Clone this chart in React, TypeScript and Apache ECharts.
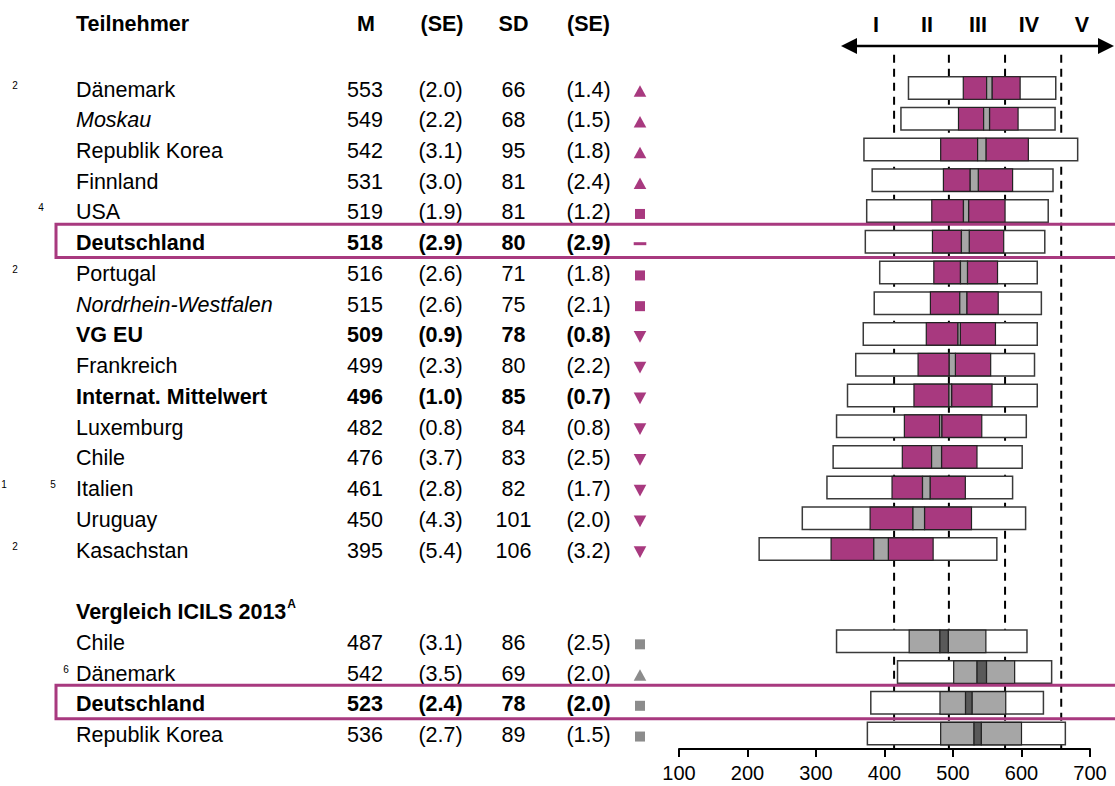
import React, { useEffect, useRef } from 'react';
import * as echarts from 'echarts';

// ---------------- DATA: ICILS 2018 ----------------
const countries = ['Dänemark', 'Moskau', 'Republik Korea', 'Finnland', 'USA', 'Deutschland', 'Portugal', 'Nordrhein-Westfalen', 'VG EU', 'Frankreich', 'Internat. Mittelwert', 'Luxemburg', 'Chile', 'Italien', 'Uruguay', 'Kasachstan'];
const meanM = [553, 549, 542, 531, 519, 518, 516, 515, 509, 499, 496, 482, 476, 461, 450, 395];
const seM = [2.0, 2.2, 3.1, 3.0, 1.9, 2.9, 2.6, 2.6, 0.9, 2.3, 1.0, 0.8, 3.7, 2.8, 4.3, 5.4];
const sdValues = [66, 68, 95, 81, 81, 80, 71, 75, 78, 80, 85, 84, 83, 82, 101, 106];
const seSD = [1.4, 1.5, 1.8, 2.4, 1.2, 2.9, 1.8, 2.1, 0.8, 2.2, 0.7, 0.8, 2.5, 1.7, 2.0, 3.2];
const p5 = [435, 424, 370, 382, 374, 372, 393, 385, 369, 358, 346, 330, 325, 316, 280, 217];
const p25 = [515, 508, 482, 486, 469, 470, 472, 467, 461, 449, 443, 429, 426, 411, 379, 322];
const p75 = [598, 595, 610, 587, 576, 574, 565, 566, 562, 555, 557, 542, 535, 518, 527, 471];
const p95 = [650, 649, 682, 646, 639, 634, 623, 629, 623, 619, 623, 607, 601, 587, 606, 564];
const diffToGermany = ['up', 'up', 'up', 'up', 'ns', 'ref', 'ns', 'ns', 'down', 'down', 'down', 'down', 'down', 'down', 'down', 'down'];
const nameStyle = ['', 'i', '', '', '', 'b', '', 'i', 'b', '', 'b', '', '', '', '', ''];
const footnotes = ['2', '', '', '', '4', '', '2', '', '', '', '', '', '', '1 5', '', '2'];

// ---------------- DATA: Vergleich ICILS 2013 ----------------
const icilsTitle = 'Vergleich ICILS 2013';
const icilsTitleNote = 'A';
const countries13 = ['Chile', 'Dänemark', 'Deutschland', 'Republik Korea'];
const meanM13 = [487, 542, 523, 536];
const seM13 = [3.1, 3.5, 2.4, 2.7];
const sd13 = [86, 69, 78, 89];
const seSD13 = [2.5, 2.0, 2.0, 1.5];
const p5_13 = [330, 419, 380, 375];
const p25_13 = [436, 501, 481, 482];
const p75_13 = [548, 590, 577, 600];
const p95_13 = [608, 644, 632, 664];
const diff13 = ['ns', 'up', 'ns', 'ns'];
const nameStyle13 = ['', '', 'b', ''];
const footnotes13 = ['', '6', '', ''];

// proficiency levels
const levelNames = ['I', 'II', 'III', 'IV', 'V'];
const levelCutoffs = [414, 494, 576, 658];

// headers
const headers = ['Teilnehmer', 'M', '(SE)', 'SD', '(SE)'];

// ---------------- STYLE / LAYOUT ----------------
const FONT = '"Liberation Sans", Arial, Helvetica, sans-serif';
const FS = 21.5;
const MAGENTA = '#a8397f';
const CI_GREY = '#a6a6a6';
const DARK_CI = '#595959';
const MARK_GREY = '#8c8c8c';
const COL = { name: 76, m: 365, se1: 440.5, sd: 513.5, se2: 588.5, sig: 640 };
const HEAD_X = [76, 366, 442, 513.5, 588.5];
const NOTE_X: Record<string, number> = { '1': 4, '2': 15, '4': 41, '5': 53, '6': 66 };
const LEVEL_X = [876, 927, 978, 1029, 1082];
const ROW_STEP = 30.74;
const ROW0_Y = 88;
const Y_MIN = -2.5;
const Y_MAX = 21.5;
const GRID_TOP = ROW0_Y + Y_MIN * ROW_STEP;
const GRID_BOTTOM = 786 - (ROW0_Y + Y_MAX * ROW_STEP);

type Row = {
  row: number; name: string; style: string; heading?: boolean;
  m?: number; se?: number; sd?: number; sesd?: number; sig?: string;
  notes: string; grey: boolean; highlight: boolean;
};

const tableRows: Row[] = [
  ...countries.map((name, i) => ({
    row: i, name, style: nameStyle[i], m: meanM[i], se: seM[i], sd: sdValues[i], sesd: seSD[i],
    sig: diffToGermany[i], notes: footnotes[i], grey: false, highlight: name === 'Deutschland',
  })),
  { row: countries.length + 1, name: icilsTitle, style: 'b', heading: true, notes: '', grey: true, highlight: false },
  ...countries13.map((name, j) => ({
    row: countries.length + 2 + j, name, style: nameStyle13[j], m: meanM13[j], se: seM13[j], sd: sd13[j], sesd: seSD13[j],
    sig: diff13[j], notes: footnotes13[j], grey: true, highlight: name === 'Deutschland',
  })),
];

const ci = (m: number, se: number) => [m - 1.96 * se, m + 1.96 * se];

const boxData18 = countries.map((_, i) => {
  const [lo, hi] = ci(meanM[i], seM[i]);
  return [p5[i], p25[i], lo, hi, p75[i], p95[i], i];
});
const boxData13 = countries13.map((_, j) => {
  const [lo, hi] = ci(meanM13[j], seM13[j]);
  return [p5_13[j], p25_13[j], lo, hi, p75_13[j], p95_13[j], countries.length + 2 + j];
});

function textWidth(text: string, font: string) {
  const c = document.createElement('canvas').getContext('2d');
  if (!c) return text.length * 11;
  c.font = font;
  return c.measureText(text).width;
}

const boxRender = (fillCol: string, ciCol: string) => (params: any, api: any) => {
  const row = api.value(6);
  const cy = api.coord([100, row])[1];
  const X = (d: number) => api.coord([api.value(d), row])[0];
  const h = 22.5;
  const top = cy - h / 2;
  const r = (x1: number, x2: number, fill: string, stroke: string, lw: number) => ({
    type: 'rect', shape: { x: x1, y: top, width: x2 - x1, height: h }, style: { fill, stroke, lineWidth: lw },
  });
  return {
    type: 'group',
    children: [
      r(X(0), X(5), '#ffffff', '#3a3a3a', 1.5),
      r(X(1), X(2), fillCol, '#222222', 1.2),
      r(X(3), X(4), fillCol, '#222222', 1.2),
      r(X(2), X(3), ciCol, '#222222', 1.2),
    ],
  };
};

const tableRender = (params: any, api: any) => {
  const r = tableRows[params.dataIndex];
  const cy = api.coord([100, r.row])[1];
  const ty = cy + 1.5;
  const weight = r.style === 'b' ? 'bold' : 'normal';
  const children: any[] = [];
  const txt = (text: string, x: number, align: string, extra: any = {}) => ({
    type: 'text',
    style: {
      text, x, y: ty, fill: '#000', fontSize: FS, fontFamily: FONT, fontWeight: weight,
      fontStyle: 'normal', align, verticalAlign: 'middle', ...extra,
    },
  });
  if (r.highlight) {
    children.push({
      type: 'rect', shape: { x: 56, y: cy - 17.5, width: 1100, height: 33.4 },
      style: { fill: 'none', stroke: MAGENTA, lineWidth: 3 },
    });
  }
  children.push(txt(r.name, COL.name, 'left', { fontStyle: r.style === 'i' ? 'italic' : 'normal' }));
  if (r.heading) {
    const w = textWidth(r.name, `bold ${FS}px "Liberation Sans"`);
    children.push({
      type: 'text',
      style: { text: icilsTitleNote, x: COL.name + w + 1, y: ty - 8, fill: '#000', fontSize: 12, fontWeight: 'bold', fontFamily: FONT, align: 'left', verticalAlign: 'middle' },
    });
  }
  if (r.m != null) {
    children.push(txt(String(r.m), COL.m, 'center'));
    children.push(txt(`(${r.se!.toFixed(1)})`, COL.se1, 'center'));
    children.push(txt(String(r.sd), COL.sd, 'center'));
    children.push(txt(`(${r.sesd!.toFixed(1)})`, COL.se2, 'center'));
    const col = r.grey ? MARK_GREY : MAGENTA;
    const x = COL.sig;
    const my = cy + 3;
    if (r.sig === 'up') {
      children.push({ type: 'polygon', shape: { points: [[x - 6.3, my + 5.8], [x + 6.3, my + 5.8], [x, my - 5.8]] }, style: { fill: col } });
    } else if (r.sig === 'down') {
      children.push({ type: 'polygon', shape: { points: [[x - 6.3, my - 5.8], [x + 6.3, my - 5.8], [x, my + 5.8]] }, style: { fill: col } });
    } else if (r.sig === 'ns') {
      children.push({ type: 'rect', shape: { x: x - 5, y: my - 5, width: 10, height: 10 }, style: { fill: col } });
    } else if (r.sig === 'ref') {
      children.push({ type: 'rect', shape: { x: x - 6.3, y: cy + 0.5, width: 12.6, height: 3 }, style: { fill: col } });
    }
  }
  if (r.notes) {
    r.notes.split(' ').forEach((n) => {
      children.push({
        type: 'text',
        style: { text: n, x: NOTE_X[n] ?? 15, y: cy - 3, fill: '#000', fontSize: 10, fontFamily: FONT, align: 'center', verticalAlign: 'middle' },
      });
    });
  }
  return { type: 'group', children };
};

const cutoffRender = (params: any, api: any) => {
  const v = api.value(0);
  const [x, y1] = api.coord([v, -1.08]);
  const y2 = api.coord([v, Y_MAX])[1];
  return { type: 'line', shape: { x1: x, y1, x2: x, y2 }, style: { stroke: '#000', lineWidth: 2, lineDash: [8, 6] } };
};

const graphics: any[] = [
  ...headers.map((h, i) => ({
    type: 'text', left: undefined, x: HEAD_X[i], y: 24,
    style: { text: h, fill: '#000', fontSize: FS, fontWeight: 'bold', fontFamily: FONT, align: i === 0 ? 'left' : 'center', verticalAlign: 'middle' },
  })),
  ...levelNames.map((t, i) => ({
    type: 'text', x: LEVEL_X[i], y: 24.5,
    style: { text: t, fill: '#000', fontSize: FS, fontWeight: 'bold', fontFamily: FONT, align: 'center', verticalAlign: 'middle' },
  })),
  { type: 'line', shape: { x1: 852, y1: 46, x2: 1103, y2: 46 }, style: { stroke: '#000', lineWidth: 2.6 } },
  { type: 'polygon', shape: { points: [[841, 46], [857, 38], [857, 54]] }, style: { fill: '#000' } },
  { type: 'polygon', shape: { points: [[1114, 46], [1098, 38], [1098, 54]] }, style: { fill: '#000' } },
];

const option: any = {
  animation: false,
  backgroundColor: '#ffffff',
  grid: { left: 679, right: 25, top: GRID_TOP, bottom: GRID_BOTTOM, containLabel: false },
  xAxis: {
    type: 'value', min: 100, max: 700, interval: 100,
    axisLine: { show: true, onZero: false, lineStyle: { color: '#000', width: 2 } },
    axisTick: { show: true, length: 8, lineStyle: { color: '#000', width: 2 } },
    axisLabel: { color: '#000', fontSize: 20, fontFamily: FONT, margin: 14 },
    splitLine: { show: false },
  },
  yAxis: { type: 'value', min: Y_MIN, max: Y_MAX, inverse: true, show: false, splitLine: { show: false } },
  graphic: graphics,
  series: [
    { name: 'Kompetenzstufen', type: 'custom', z: 1, data: levelCutoffs.map((v) => [v, 0]), renderItem: cutoffRender, silent: true },
    { name: 'ICILS 2018', type: 'custom', z: 2, data: boxData18, renderItem: boxRender(MAGENTA, CI_GREY), encode: { x: [0, 1, 2, 3, 4, 5], y: 6 }, silent: true },
    { name: 'ICILS 2013', type: 'custom', z: 2, data: boxData13, renderItem: boxRender(CI_GREY, DARK_CI), encode: { x: [0, 1, 2, 3, 4, 5], y: 6 }, silent: true },
    { name: 'Tabelle', type: 'custom', z: 5, data: tableRows.map((r) => [100, r.row]), renderItem: tableRender, silent: true },
  ],
};

export default function App() {
  const ref = useRef<HTMLDivElement>(null);
  useEffect(() => {
    if (!ref.current) return;
    const chart = echarts.init(ref.current, null, { renderer: 'svg' });
    chart.setOption(option);
    return () => chart.dispose();
  }, []);
  return <div ref={ref} style={{ position: 'fixed', left: 0, top: 0, width: 1115, height: 786, background: '#fff' }} />;
}
